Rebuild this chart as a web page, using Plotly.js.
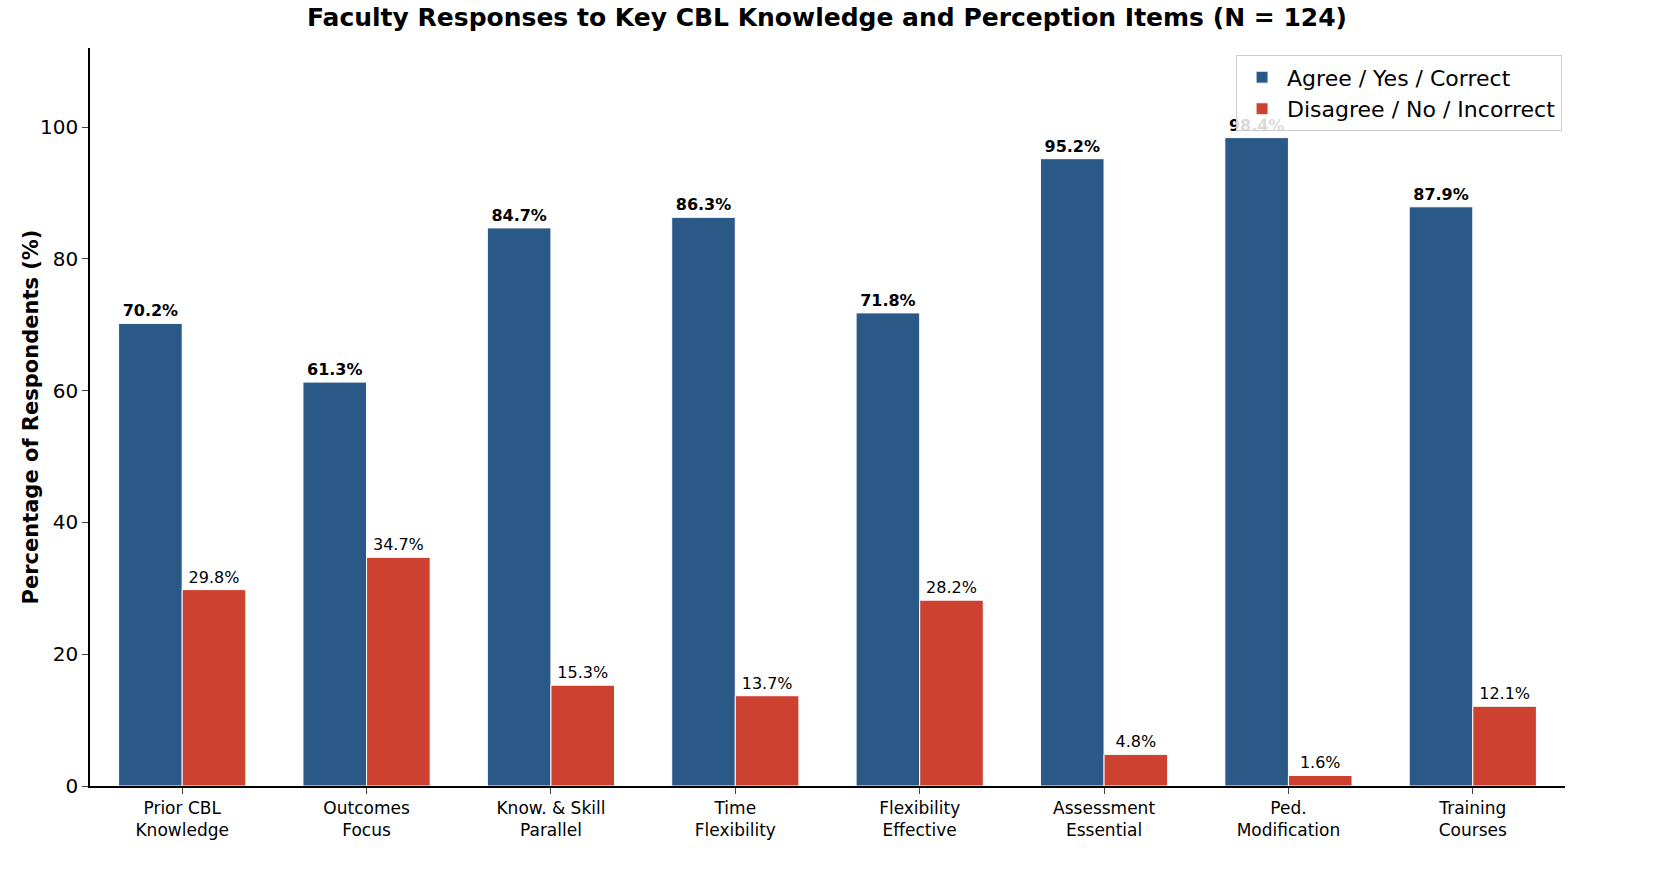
<!DOCTYPE html>
<html>
<head>
<meta charset="utf-8">
<script src="https://cdn.plot.ly/plotly-3.0.1.min.js"></script>
<style>body{margin:0;background:#fff}#chart{width:1654px;height:888px}</style>
</head>
<body>
<div id="chart"></div>
<script>
var categories = ['Prior CBL<br>Knowledge', 'Outcomes<br>Focus', 'Know. & Skill<br>Parallel', 'Time<br>Flexibility',
  'Flexibility<br>Effective', 'Assessment<br>Essential', 'Ped.<br>Modification', 'Training<br>Courses'];
var agree = [70.2, 61.3, 84.7, 86.3, 71.8, 95.2, 98.4, 87.9];
var disagree = [29.8, 34.7, 15.3, 13.7, 28.2, 4.8, 1.6, 12.1];

var traceAgree = {
  x: categories, y: agree, type: 'bar', name: 'Agree / Yes / Correct',
  marker: {color: '#2b5987', line: {color: 'white', width: 1}},
  text: agree.map(function (v) { return '<b>' + v.toFixed(1) + '%</b>'; }),
  textposition: 'outside', cliponaxis: false,
  textfont: {family: 'DejaVu Sans', size: 16, color: 'black'}
};
var traceDisagree = {
  x: categories, y: disagree, type: 'bar', name: 'Disagree / No / Incorrect',
  marker: {color: '#cc4130', line: {color: 'white', width: 1}},
  text: disagree.map(function (v) { return v.toFixed(1) + '%'; }),
  textposition: 'outside', cliponaxis: false,
  textfont: {family: 'DejaVu Sans', size: 16, color: 'black'}
};

var layout = {
  width: 1654, height: 888,
  margin: {l: 90, r: 89, t: 48, b: 102},
  font: {family: 'DejaVu Sans', color: 'black'},
  barmode: 'group', bargap: 0.31, bargroupgap: 0,
  title: {text: '<b>Faculty Responses to Key CBL Knowledge and Perception Items (N = 124)</b>',
    font: {size: 25}, x: 0.5, xanchor: 'center', y: 0.99, yanchor: 'top'},
  xaxis: {showline: true, linecolor: 'black', linewidth: 1.5, ticks: 'outside', ticklen: 6,
    tickfont: {size: 17}, showgrid: false},
  yaxis: {range: [0, 112], showline: true, linecolor: 'black', linewidth: 1.5, ticks: 'outside',
    ticklen: 6, dtick: 20, tickfont: {size: 20}, showgrid: false, zeroline: false,
    title: {text: '<b>Percentage of Respondents (%)</b>', font: {size: 21}}},
  legend: {x: 0.998, y: 0.99, xanchor: 'right', yanchor: 'top', bgcolor: 'rgba(255,255,255,0.85)',
    bordercolor: '#cccccc', borderwidth: 1, font: {size: 22}, itemwidth: 40},
  plot_bgcolor: 'white', paper_bgcolor: 'white'
};

Plotly.newPlot('chart', [traceAgree, traceDisagree], layout, {displayModeBar: false});
</script>
</body>
</html>
